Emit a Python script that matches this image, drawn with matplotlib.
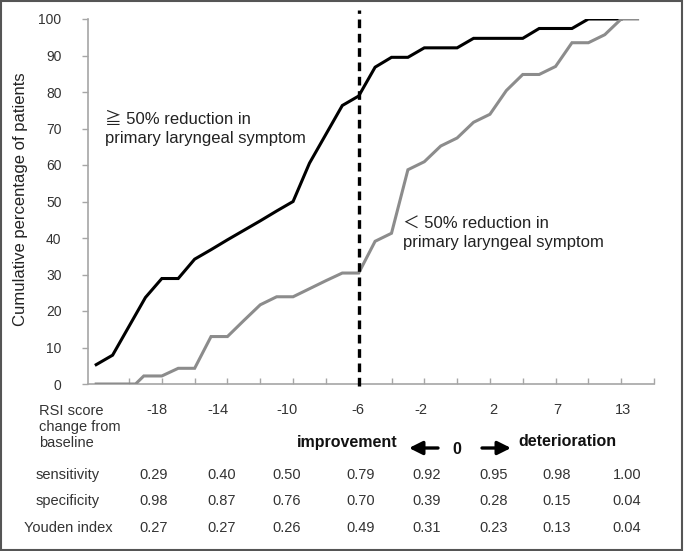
import matplotlib

matplotlib.use("Agg")
import matplotlib.pyplot as plt
import numpy as np
from matplotlib.patches import Rectangle

FIG_W, FIG_H = 685, 551

# cumulative % of patients, one value per ordered RSI-change category
GE50_VALUES = [5.3, 7.9, 15.8, 23.7, 28.9, 28.9, 34.2, 36.8, 39.5, 42.1, 44.7, 47.4, 50.0,
               60.5, 68.4, 76.3, 78.9, 86.8, 89.5, 89.5, 92.1, 92.1, 92.1, 94.7, 94.7, 94.7,
               94.7, 97.4, 97.4, 97.4, 100.0, 100.0, 100.0]
LT50_X = [0, 2.4, 2.9, 4, 5, 6, 7, 8, 9, 10, 11, 12, 13, 14, 15, 16, 17, 18, 19, 20, 21, 22,
          23, 24, 25, 26, 27, 28, 29, 30, 31, 32, 33]
LT50_VALUES = [0.0, 0.0, 2.2, 2.2, 4.3, 4.3, 13.0, 13.0, 17.4, 21.7, 23.9, 23.9, 26.1, 28.3,
               30.4, 30.4, 39.1, 41.3, 58.7, 60.9, 65.2, 67.4, 71.7, 73.9, 80.4, 84.8, 84.8,
               87.0, 93.5, 93.5, 95.7, 100.0, 100.0]
CUTOFF_CATEGORY = 16

RSI_LABELS = ["-18", "-14", "-10", "-6", "-2", "2", "7", "13"]
SENSITIVITY = ["0.29", "0.40", "0.50", "0.79", "0.92", "0.95", "0.98", "1.00"]
SPECIFICITY = ["0.98", "0.87", "0.76", "0.70", "0.39", "0.28", "0.15", "0.04"]
YOUDEN = ["0.27", "0.27", "0.26", "0.49", "0.31", "0.23", "0.13", "0.04"]

# layout (pixels in the 685x551 picture)
RSI_X_PX = [157, 218, 287, 358, 421, 493, 557, 623]
VALUE_X_PX = [154, 222, 287, 361, 427, 494, 557, 627]

FONT = ["Liberation Sans", "Noto Sans CJK JP", "DejaVu Sans"]
TEXT_COLOR = "#333333"
AXIS_COLOR = "#a6a6a6"


def px(x, y):
    return x / FIG_W, 1 - y / FIG_H


def main() -> None:
    plt.rcParams["font.family"] = FONT
    fig = plt.figure(figsize=(FIG_W / 100, FIG_H / 100), dpi=100)
    ax = fig.add_axes([88 / FIG_W, 1 - 384 / FIG_H, (654 - 88) / FIG_W, (384 - 19) / FIG_H])

    ax.plot(np.arange(len(GE50_VALUES)), GE50_VALUES, color="black", lw=2.2,
            solid_joinstyle="miter", zorder=3)
    ax.plot(LT50_X, LT50_VALUES, color="#8c8c8c", lw=2.2, solid_joinstyle="miter", zorder=4)
    ax.axvline(CUTOFF_CATEGORY, ymin=-0.005, ymax=1.025, color="black", lw=2.4,
               linestyle=(0, (2.6, 1.7)), clip_on=False, zorder=5)

    ax.set_xlim(-0.5, 34)
    ax.set_ylim(0, 100)
    ax.set_xticks(np.arange(2, 35, 2))
    ax.set_xticklabels([])
    ax.set_yticks(np.arange(0, 101, 10))
    ax.tick_params(axis="x", direction="in", length=4, width=1, color=AXIS_COLOR)
    ax.tick_params(axis="y", direction="out", length=4, width=1, color=AXIS_COLOR,
                   labelsize=10, labelcolor=TEXT_COLOR, pad=15)
    for side in ("top", "right"):
        ax.spines[side].set_visible(False)
    for side in ("left", "bottom"):
        ax.spines[side].set_color(AXIS_COLOR)
        ax.spines[side].set_linewidth(1.2)

    ax.set_ylabel("Cumulative percentage of patients", fontsize=12, color="#222222")
    ax.yaxis.set_label_coords((28 - 88) / 566, (384 - 199) / 365)

    fig.text(*px(105, 129), "\u2267 50% reduction in\nprimary laryngeal symptom",
             fontsize=12, color="#222222", ha="left", va="center", linespacing=1.3)
    fig.text(*px(403, 233), "\uff1c 50% reduction in\nprimary laryngeal symptom",
             fontsize=12, color="#222222", ha="left", va="center", linespacing=1.3)

    # table below the axis
    fig.text(*px(39, 427), "RSI score\nchange from\nbaseline", fontsize=10.5,
             color=TEXT_COLOR, ha="left", va="center", linespacing=1.2)
    for x, label in zip(RSI_X_PX, RSI_LABELS):
        fig.text(*px(x, 410), label, fontsize=10.5, color=TEXT_COLOR, ha="center", va="center")

    rows = [("sensitivity", SENSITIVITY, 475), ("specificity", SPECIFICITY, 501),
            ("Youden index", YOUDEN, 528)]
    for name, values, y in rows:
        fig.text(*px(68, y), name, fontsize=10.5, color=TEXT_COLOR, ha="center", va="center")
        for x, value in zip(VALUE_X_PX, values):
            fig.text(*px(x, y), value, fontsize=10.5, color=TEXT_COLOR, ha="center", va="center")

    fig.text(*px(398, 442), "improvement", fontsize=11.5, fontweight="bold", color="#111111",
             ha="right", va="center")
    fig.text(*px(457, 450), "0", fontsize=11.5, fontweight="bold", color="#111111",
             ha="center", va="center")
    fig.text(*px(518, 442), "deterioration", fontsize=11.5, fontweight="bold", color="#111111",
             ha="left", va="center")
    arrow = dict(arrowstyle="-|>,head_length=0.4,head_width=0.2", color="black", lw=2.4,
                 mutation_scale=20, shrinkA=0, shrinkB=0)
    ax.annotate("", xy=px(409, 448), xytext=px(438, 448), xycoords="figure fraction",
                textcoords="figure fraction", arrowprops=arrow, annotation_clip=False)
    ax.annotate("", xy=px(511, 448), xytext=px(482, 448), xycoords="figure fraction",
                textcoords="figure fraction", arrowprops=arrow, annotation_clip=False)

    fig.patches.append(Rectangle(px(1, 550), 681 / FIG_W, 549 / FIG_H, transform=fig.transFigure,
                                 fill=False, edgecolor="#555555", lw=1.5))

    fig.savefig("out.png", dpi=100)
    plt.close(fig)


if __name__ == "__main__":
    main()
